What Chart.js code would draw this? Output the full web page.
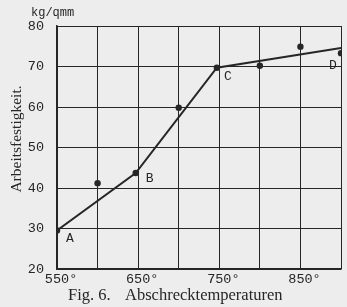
<!DOCTYPE html>
<html lang="de">

<head>
    <meta charset="UTF-8">
    <title>Fig. 6. Abschrecktemperaturen</title>
    <style>
        html, body { margin: 0; padding: 0; background: #ededed; }
        #wrap { width: 347px; height: 307px; }
    </style>
</head>

<body>
    <div id="wrap"><canvas id="myChart"></canvas></div>
    <script src="https://cdn.jsdelivr.net/npm/chart.js"></script>

    <script>
        // Messpunkte (Abschrecktemperatur °C, Arbeitsfestigkeit kg/qmm)
        var tempPoints = [550, 600, 647, 700, 747, 800, 850, 900];
        var festPoints = [29.5, 41.2, 43.7, 59.8, 69.7, 70.2, 74.9, 73.3];

        // Kurve A - B - C - D
        var curveTemps = [550, 647, 747, 900];
        var curveFest = [29.5, 43.7, 69.7, 74.6];
        var curveNames = ['A', 'B', 'C', 'D'];

        var xLabelTicks = [550, 650, 750, 850];
        var yTicks = [20, 30, 40, 50, 60, 70, 80];

        var ink = '#262626';

        var pointData = tempPoints.map(function (t, i) { return { x: t, y: festPoints[i] }; });
        var curveData = curveTemps.map(function (t, i) { return { x: t, y: curveFest[i] }; });

        // Beschriftungen direkt auf die Leinwand
        var paperPlugin = {
            id: 'paper',
            beforeDraw: function (chart) {
                var c = chart.ctx;
                c.save();
                c.fillStyle = '#ededed';
                c.fillRect(0, 0, chart.width, chart.height);
                c.restore();
            },
            afterDraw: function (chart) {
                var c = chart.ctx;
                var xs = chart.scales.x, ys = chart.scales.y;
                c.save();
                c.fillStyle = ink;
                // Einheit
                c.font = '12px "Liberation Mono"';
                c.textAlign = 'left';
                c.textBaseline = 'middle';
                c.fillText('kg/qmm', 31, 13);

                // A B C D
                c.font = '13px "Liberation Mono"';
                var offs = [[13, 8], [14, 6], [11, 9], [-8, 18]];
                curveNames.forEach(function (n, i) {
                    var px = xs.getPixelForValue(curveTemps[i]);
                    var py = ys.getPixelForValue(curveFest[i]);
                    c.textAlign = 'center';
                    c.fillText(n, px + offs[i][0], py + offs[i][1]);
                });

                // Achsentitel
                c.save();
                c.translate(17, 139);
                c.rotate(-Math.PI / 2);
                c.font = '15.5px "Liberation Serif"';
                c.textAlign = 'center';
                c.fillText('Arbeitsfestigkeit.', 0, 0);
                c.restore();

                // Bildunterschrift
                c.font = '16.5px "Liberation Serif"';
                c.textAlign = 'left';
                c.fillText('Fig. 6.', 68, 296);
                c.fillText('Abschrecktemperaturen', 125, 296);
                c.restore();
            }
        };

        const ctx = document.getElementById('myChart');

        var mychart = new Chart(ctx, {
            type: 'scatter',
            data: {
                datasets: [{
                    type: 'line',
                    label: 'Kurve',
                    data: curveData,
                    borderColor: ink,
                    borderWidth: 2,
                    pointRadius: 0,
                    tension: 0,
                    fill: false
                }, {
                    label: 'Messpunkte',
                    data: pointData,
                    pointRadius: 3.2,
                    pointBackgroundColor: ink,
                    pointBorderColor: ink,
                    borderWidth: 0
                }]
            },
            options: {
                responsive: true,
                maintainAspectRatio: false,
                animation: false,
                events: [],
                layout: {
                    padding: { top: 26, right: 6, left: 0, bottom: 0 }
                },
                plugins: {
                    legend: { display: false },
                    tooltip: { enabled: false }
                },
                scales: {
                    x: {
                        type: 'linear',
                        min: 550,
                        max: 900,
                        afterBuildTicks: function (scale) {
                            scale.ticks = [550, 600, 650, 700, 750, 800, 850, 900].map(function (v) { return { value: v }; });
                        },
                        afterFit: function (scale) { scale.height = 38; },
                        grid: { color: ink, lineWidth: 1, drawTicks: false },
                        border: { color: ink, width: 1.5 },
                        ticks: {
                            padding: 2,
                            color: ink,
                            maxRotation: 0,
                            autoSkip: false,
                            font: { family: '"Liberation Mono"', size: 13.5 },
                            callback: function (v) {
                                return xLabelTicks.indexOf(v) >= 0 ? ' ' + v + '°' : '';
                            }
                        }
                    },
                    y: {
                        min: 20,
                        max: 80,
                        afterBuildTicks: function (scale) {
                            scale.ticks = yTicks.map(function (v) { return { value: v }; });
                        },
                        afterFit: function (scale) { scale.width = 57; },
                        grid: { color: ink, lineWidth: 1, drawTicks: false },
                        border: { color: ink, width: 1.5 },
                        ticks: {
                            padding: 13,
                            color: ink,
                            font: { family: '"Liberation Mono"', size: 13.5 }
                        }
                    }
                }
            },
            plugins: [paperPlugin]
        });
    </script>
</body>

</html>
